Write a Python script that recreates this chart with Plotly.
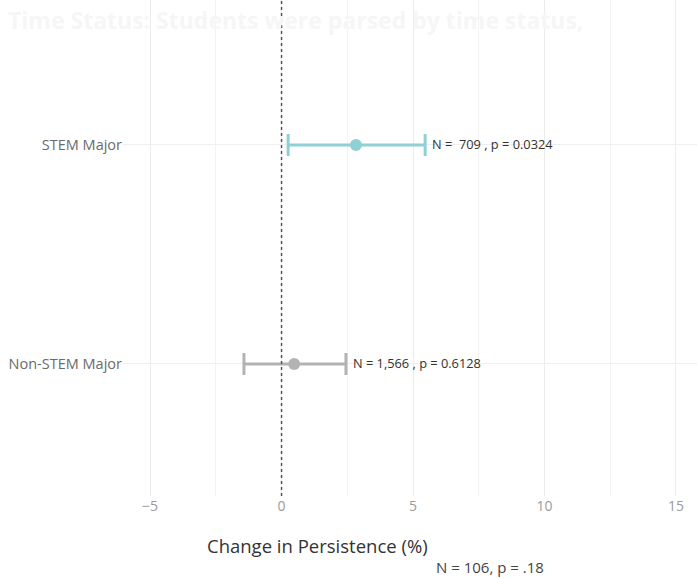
import plotly.graph_objects as go

categories = ["STEM Major", "Non-STEM Major"]
estimates = [2.83, 0.48]
lower = [0.25, -1.43]
upper = [5.46, 2.45]
labels = ["N =  709 , p = 0.0324", "N = 1,566 , p = 0.6128"]
colors = ["#8fd0d4", "#b3b3b3"]
x_ticks = [-5, 0, 5, 10, 15]
title_text = "Time Status: Students were parsed by time status,"
x_title = "Change in Persistence (%)"
footnote = "N = 106, p = .18"

FONT = "Open Sans"

L, R, T, B = 123, 0, 0, 82
W, H = 697, 578
pw = W - L - R
ph = H - T - B

def px_x(p):
    return (p - L) / pw

def px_y(p):
    return 1 - (p - T) / ph

fig = go.Figure()
for cat, est, lo, hi, col, lab in zip(categories, estimates, lower, upper, colors, labels):
    fig.add_trace(go.Scatter(
        x=[est], y=[cat], mode="markers",
        marker=dict(color=col, size=12),
        error_x=dict(type="data", symmetric=False, array=[hi - est], arrayminus=[est - lo],
                     color=col, thickness=3, width=11),
        showlegend=False, hoverinfo="skip"))
    fig.add_annotation(x=hi, y=cat, text=lab, showarrow=False, xanchor="left", yanchor="middle",
                       xshift=5, yshift=1, font=dict(family=FONT, size=12.8, color="#333333"))

fig.add_shape(type="line", x0=0, x1=0, y0=0, y1=1, xref="x", yref="paper",
              line=dict(color="#555555", width=1.5, dash="dot"))

fig.add_annotation(x=px_x(6), y=px_y(20), xref="paper", yref="paper", text="<b>" + title_text + "</b>",
                   showarrow=False, xanchor="left", yanchor="middle",
                   font=dict(family=FONT, size=23, color="#f6f6f6"))
fig.add_annotation(x=px_x(317), y=px_y(545), xref="paper", yref="paper", text=x_title, showarrow=False,
                   xanchor="center", yanchor="middle",
                   font=dict(family=FONT, size=18.5, color="#333333"))
fig.add_annotation(x=px_x(490), y=px_y(567), xref="paper", yref="paper", text=footnote, showarrow=False,
                   xanchor="center", yanchor="middle",
                   font=dict(family=FONT, size=15, color="#444444"))

fig.update_layout(
    width=W, height=H,
    margin=dict(l=L, r=R, t=T, b=B),
    plot_bgcolor="white", paper_bgcolor="white",
    font=dict(family=FONT),
    xaxis=dict(range=[-6.03, 15.8], tickvals=x_ticks, showgrid=True, gridcolor="#ececec", gridwidth=1,
               zeroline=False, showline=False, ticks="",
               tickfont=dict(size=14, color="#9a9a9a"),
               minor=dict(dtick=2.5, tick0=0, showgrid=True, gridcolor="#f3f3f3", gridwidth=1)),
    yaxis=dict(type="category", categoryarray=categories[::-1], range=[-0.603, 1.662],
               showgrid=True, gridcolor="#efefef", zeroline=False, showline=False, ticks="",
               tickfont=dict(size=14.5, color="#6b6b6b"), ticklabelstandoff=0),
)

fig.write_html("out.html", config={"displayModeBar": False},
               post_script="document.body.style.margin='0';")
